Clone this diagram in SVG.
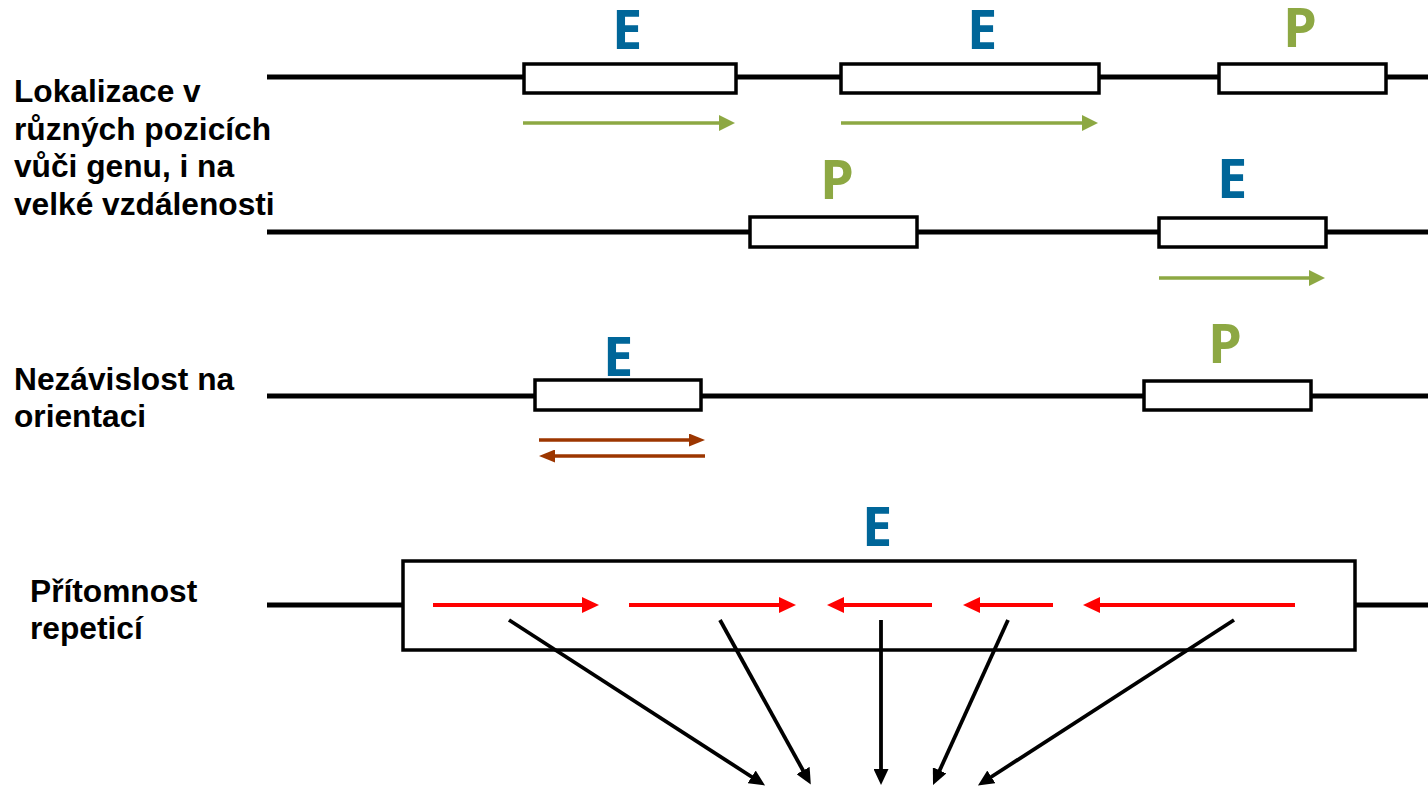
<svg xmlns="http://www.w3.org/2000/svg" width="1428" height="787" viewBox="0 0 1428 787">
<style>
.dna{stroke:#000;stroke-width:5;fill:none}
.box{fill:#fff;stroke:#000;stroke-width:3.5}
.lbl{font-family:"Liberation Sans",Arial,sans-serif;font-weight:bold;font-size:31.7px;fill:#000}
.E{font-family:"Open Sans","Noto Sans",sans-serif;font-weight:bold;font-size:54px;fill:#006699;text-anchor:middle}
.P{font-family:"Open Sans","Noto Sans",sans-serif;font-weight:bold;font-size:54px;fill:#8DA843;text-anchor:middle}
.g{stroke:#8DA843;stroke-width:3.5;fill:none;marker-end:url(#mg)}
.b{stroke:#9C3600;stroke-width:3.5;fill:none;marker-end:url(#mb)}
.r{stroke:#FF0000;stroke-width:4;fill:none;marker-end:url(#mr)}
.k{stroke:#000;stroke-width:3.8;fill:none;marker-end:url(#mk)}
</style>
<defs>
<marker id="mg" markerUnits="userSpaceOnUse" markerWidth="16" markerHeight="16" refX="4" refY="8" orient="auto"><path d="M0,0 L16,8 L0,16 z" fill="#8DA843"/></marker>
<marker id="mb" markerUnits="userSpaceOnUse" markerWidth="16" markerHeight="13" refX="4" refY="6.5" orient="auto"><path d="M0,0 L16,6.5 L0,13 z" fill="#9C3600"/></marker>
<marker id="mr" markerUnits="userSpaceOnUse" markerWidth="17" markerHeight="16" refX="4" refY="8" orient="auto"><path d="M0,0 L17,8 L0,16 z" fill="#FF0000"/></marker>
<marker id="mk" markerUnits="userSpaceOnUse" markerWidth="16" markerHeight="15" refX="4" refY="7.5" orient="auto"><path d="M0,0 L16,7.5 L0,15 z" fill="#000"/></marker>
</defs>

<g id="labels">
<text class="lbl" x="14" y="102">Lokalizace v</text>
<text class="lbl" x="14" y="140">různých pozicích</text>
<text class="lbl" x="14" y="177">vůči genu, i na</text>
<text class="lbl" x="14" y="215">velké vzdálenosti</text>
<text class="lbl" x="14" y="390">Nezávislost na</text>
<text class="lbl" x="14" y="427">orientaci</text>
<text class="lbl" x="30" y="602">Přítomnost</text>
<text class="lbl" x="30" y="639">repeticí</text>
</g>

<g id="dna-lines">
<line class="dna" x1="267" y1="77" x2="1428" y2="77"/>
<line class="dna" x1="267" y1="232" x2="1428" y2="232"/>
<line class="dna" x1="267" y1="396" x2="1428" y2="396"/>
<line class="dna" x1="267" y1="605" x2="403" y2="605"/>
<line class="dna" x1="1355" y1="605" x2="1428" y2="605"/>
</g>

<g id="row1-E1"><rect class="box" x="524" y="64" width="212" height="29"/><text class="E" x="627" y="49">E</text></g>
<g id="row1-E2"><rect class="box" x="841" y="64" width="258" height="29"/><text class="E" x="982" y="49">E</text></g>
<g id="row1-P"><rect class="box" x="1219" y="64" width="167" height="29"/><text class="P" x="1300" y="47">P</text></g>
<g id="row2-P"><rect class="box" x="750" y="217" width="167" height="30"/><text class="P" x="837" y="199">P</text></g>
<g id="row2-E"><rect class="box" x="1159" y="218" width="167" height="29"/><text class="E" x="1232" y="198">E</text></g>
<g id="row3-E"><rect class="box" x="535" y="380" width="166" height="30"/><text class="E" x="618" y="376">E</text></g>
<g id="row3-P"><rect class="box" x="1144" y="381" width="167" height="29"/><text class="P" x="1225" y="363">P</text></g>
<g id="row4-E"><rect class="box" x="403" y="561" width="952" height="89"/><text class="E" x="877" y="546">E</text></g>

<g id="connectors">
<line class="g" x1="523" y1="123" x2="723" y2="123"/>
<line class="g" x1="841" y1="123" x2="1086" y2="123"/>
<line class="g" x1="1159" y1="278" x2="1313" y2="278"/>
<line class="b" x1="539" y1="440" x2="693" y2="440"/>
<line class="b" x1="705" y1="456" x2="551" y2="456"/>
<line class="r" x1="433" y1="605" x2="586" y2="605"/>
<line class="r" x1="629" y1="605" x2="783" y2="605"/>
<line class="r" x1="932" y1="605" x2="840" y2="605"/>
<line class="r" x1="1053" y1="605" x2="976" y2="605"/>
<line class="r" x1="1295" y1="605" x2="1096" y2="605"/>
<line class="k" x1="509" y1="620" x2="755" y2="779"/>
<line class="k" x1="720" y1="620" x2="805" y2="774"/>
<line class="k" x1="881" y1="620" x2="881" y2="773"/>
<line class="k" x1="1008" y1="620" x2="938" y2="774"/>
<line class="k" x1="1234" y1="620" x2="988" y2="779"/>
</g>
</svg>
